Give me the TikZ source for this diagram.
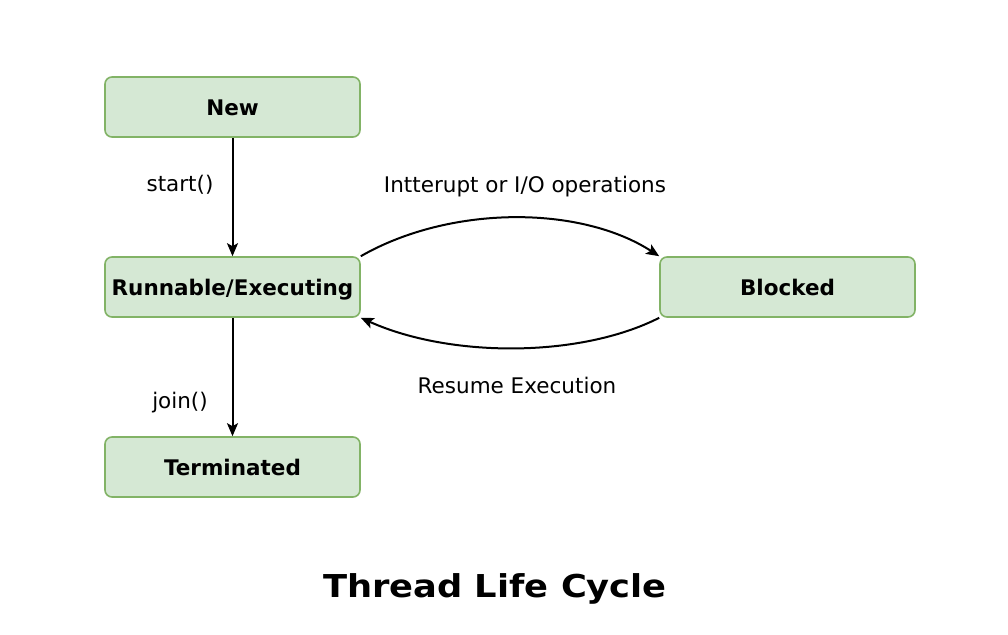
\documentclass[tikz,border=0pt]{standalone}
\usepackage{fontspec}
\setmainfont{DejaVu Sans}
\newfontfamily\titlefont{DejaVu Sans}[FakeStretch=1.12]
\usetikzlibrary{arrows.meta}
\definecolor{boxfill}{HTML}{D5E8D4}
\definecolor{boxline}{HTML}{82B366}
\begin{document}
\begin{tikzpicture}[x=1pt,y=-1pt,
  state/.style={draw=boxline,fill=boxfill,line width=1.6pt,rounded corners=7pt,
    minimum width=255pt,minimum height=60pt,inner sep=0pt,
    text height=16pt,text depth=0pt,
    font=\fontsize{21.5}{25}\selectfont\bfseries},
  lbl/.style={font=\fontsize{21.5}{25}\selectfont,inner sep=0pt,anchor=base},
  conn/.style={draw,line width=2pt,-{Stealth[length=13pt,width=11pt,inset=3pt]}}]
\useasboundingbox (0,0) rectangle (1008,634);
\node[state] (new) at (232.5,107) {New};
\node[state] (run) at (232.5,287) {Runnable/Executing};
\node[state] (term) at (232.5,467) {Terminated};
\node[state] (blk) at (787.5,287) {Blocked};
\draw[conn] (new) -- (run);
\draw[conn] (run) -- (term);
\draw[conn] (run.north east) .. controls (450,205) and (580,205) .. (blk.north west);
\draw[conn] (blk.south west) .. controls (580,358) and (450,358) .. (run.south east);
\node[lbl] (l1) at (180,191) {start()};
\node[lbl] (l2) at (180,408) {join()};
\node[lbl] (l3) at (525,192) {Intterupt or I/O operations};
\node[lbl] (l4) at (517,393) {Resume Execution};
\node[font=\titlefont\fontsize{31.5}{36}\selectfont\bfseries,inner sep=0pt,anchor=base] (title) at (495,597) {Thread Life Cycle};
\end{tikzpicture}
\end{document}
